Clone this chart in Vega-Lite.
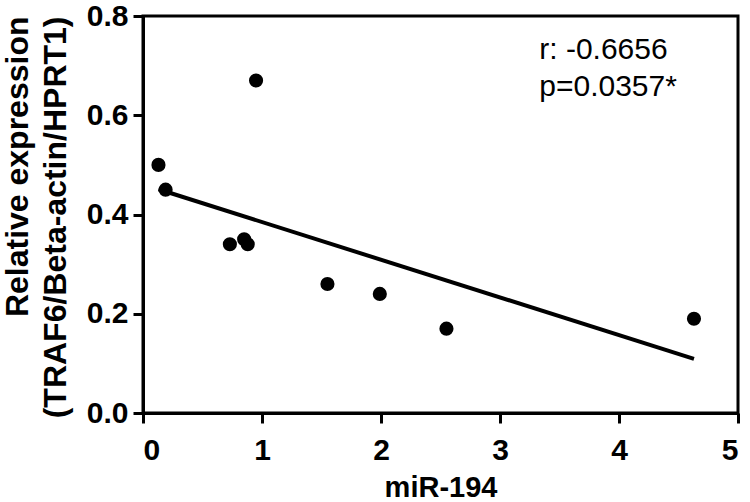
{
  "$schema": "https://vega.github.io/schema/vega-lite/v6.json",
  "width": 595,
  "height": 397,
  "autosize": {"type": "none"},
  "padding": {"left": 143, "top": 16, "right": 12, "bottom": 89},
  "background": "white",
  "config": {
    "view": {"stroke": "black", "strokeWidth": 3},
    "font": "Liberation Sans",
    "axis": {
      "domainColor": "black",
      "domainWidth": 3,
      "tickColor": "black",
      "tickWidth": 3,
      "tickSize": 10,
      "grid": false,
      "labelFont": "Liberation Sans",
      "labelFontWeight": "bold",
      "labelFontSize": 30,
      "labelColor": "black",
      "titleFont": "Liberation Sans",
      "titleFontWeight": "bold",
      "titleFontSize": 29,
      "titleColor": "black"
    }
  },
  "datasets": {
    "points": [
      {"mir194": 0.13, "rel": 0.50},
      {"mir194": 0.19, "rel": 0.45},
      {"mir194": 0.95, "rel": 0.67},
      {"mir194": 0.73, "rel": 0.34},
      {"mir194": 0.85, "rel": 0.35},
      {"mir194": 0.88, "rel": 0.34},
      {"mir194": 1.55, "rel": 0.26},
      {"mir194": 1.99, "rel": 0.24},
      {"mir194": 2.55, "rel": 0.17},
      {"mir194": 4.63, "rel": 0.19}
    ],
    "notes": [
      {"mir194": 3.33, "rel": 0.714, "label": "r: -0.6656"},
      {"mir194": 3.33, "rel": 0.638, "label": "p=0.0357*"}
    ]
  },
  "layer": [
    {
      "data": {"name": "points"},
      "transform": [{"regression": "rel", "on": "mir194", "method": "linear"}],
      "mark": {"type": "line", "color": "black", "strokeWidth": 4},
      "encoding": {
        "x": {
          "field": "mir194", "type": "quantitative",
          "scale": {"domain": [0, 5], "nice": false, "zero": true},
          "axis": {"values": [0, 1, 2, 3, 4, 5], "format": "d", "title": "miR-194", "labelPadding": 12, "titlePadding": 8}
        },
        "y": {
          "field": "rel", "type": "quantitative",
          "scale": {"domain": [0, 0.8], "nice": false},
          "axis": {
            "values": [0, 0.2, 0.4, 0.6, 0.8], "format": ".1f",
            "title": ["Relative expression", "(TRAF6/Beta-actin/HPRT1)"],
            "titleAnchor": "end", "titleFontSize": 32, "titleLineHeight": 38, "labelPadding": 5, "titlePadding": 14
          }
        }
      }
    },
    {
      "data": {"name": "points"},
      "mark": {"type": "circle", "color": "black", "opacity": 1, "size": 200},
      "encoding": {
        "x": {"field": "mir194", "type": "quantitative"},
        "y": {"field": "rel", "type": "quantitative"}
      }
    },
    {
      "data": {"name": "notes"},
      "mark": {"type": "text", "align": "left", "baseline": "alphabetic", "fontSize": 30, "font": "Liberation Sans", "color": "black"},
      "encoding": {
        "x": {"field": "mir194", "type": "quantitative"},
        "y": {"field": "rel", "type": "quantitative"},
        "text": {"field": "label"}
      }
    }
  ]
}
